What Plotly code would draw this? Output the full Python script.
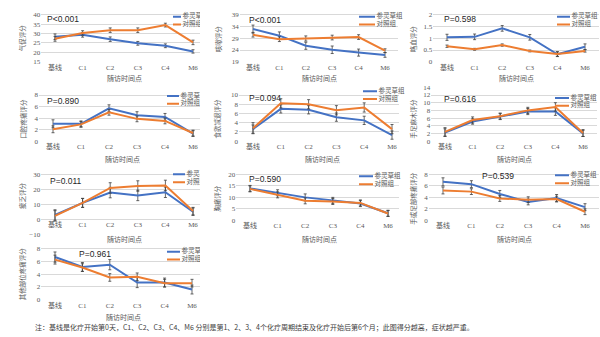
import plotly.graph_objects as go

W, H = 600, 337

categories = ["基线", "C1", "C2", "C3", "C4", "M6"]
group_names = ["参灵草组", "对照组"]
y_titles = ["气促评分", "咳嗽评分", "咯血评分", "口腔疼痛评分", "食欲减退评分",
            "手足麻木评分", "疲乏评分", "胸痛评分", "手或足部疼痛评分", "其他部位疼痛评分"]
p_labels = ["P<0.001", "P<0.001", "P=0.598", "P=0.890", "P=0.094",
            "P=0.616", "P=0.011", "P=0.590", "P=0.539", "P=0.961"]
x_title = "随访时间点"
caption = "注：基线是化疗开始第0天，C1、C2、C3、C4、M6 分别是第1、2、3、4个化疗周期结束及化疗开始后第6个月；此图得分越高，症状越严重。"

# ---- data (mean, error) per panel: SLC group (blue) and control group (orange)
p1_slc = [28.3, 29.3, 27.0, 24.8, 23.5, 20.5]
p1_slc_err = [1.5, 1.2, 1.2, 1.0, 1.0, 0.9]
p1_ctl = [27.2, 30.3, 31.8, 31.8, 34.5, 25.3]
p1_ctl_err = [1.3, 1.2, 1.2, 1.2, 1.0, 1.2]

p2_slc = [32.9, 30.1, 25.8, 24.1, 22.9, 21.9]
p2_slc_err = [1.7, 1.6, 1.5, 1.6, 1.5, 1.0]
p2_ctl = [30.5, 28.6, 28.9, 29.3, 29.5, 23.7]
p2_ctl_err = [1.0, 1.0, 1.1, 1.0, 1.0, 0.8]

p3_slc = [1.04, 1.06, 1.42, 1.04, 0.32, 0.64]
p3_slc_err = [0.13, 0.12, 0.12, 0.12, 0.10, 0.12]
p3_ctl = [0.66, 0.53, 0.71, 0.46, 0.33, 0.46]
p3_ctl_err = [0.05, 0.04, 0.05, 0.04, 0.10, 0.05]

p4_slc = [3.0, 3.0, 5.7, 4.5, 4.2, 1.3]
p4_slc_err = [0.7, 0.5, 0.6, 0.6, 0.6, 0.5]
p4_ctl = [2.05, 2.9, 5.0, 3.86, 3.5, 1.4]
p4_ctl_err = [0.6, 0.5, 0.5, 0.5, 0.5, 0.5]

p5_slc = [2.6, 7.0, 6.8, 5.2, 4.5, 1.3]
p5_slc_err = [0.9, 0.9, 0.9, 0.9, 0.9, 0.9]
p5_ctl = [2.8, 8.2, 8.0, 6.7, 7.3, 2.6]
p5_ctl_err = [1.2, 1.0, 1.0, 1.0, 1.0, 1.0]

p6_slc = [2.2, 5.1, 6.4, 7.7, 7.7, 2.0]
p6_slc_err = [1.0, 0.7, 0.8, 0.8, 1.0, 0.8]
p6_ctl = [2.4, 5.5, 6.5, 8.0, 8.9, 2.1]
p6_ctl_err = [1.1, 0.8, 0.8, 0.8, 1.1, 0.9]

p7_slc = [2.8, 10.9, 17.8, 15.9, 18.0, 5.0]
p7_slc_err = [3.5, 3.0, 3.5, 3.5, 3.5, 2.5]
p7_ctl = [2.2, 10.9, 20.9, 22.2, 22.6, 5.4]
p7_ctl_err = [3.5, 3.0, 3.5, 3.5, 3.5, 2.5]

p8_slc = [13.9, 12.0, 10.0, 8.7, 7.3, 3.1]
p8_slc_err = [1.3, 1.3, 1.5, 1.3, 1.3, 1.3]
p8_ctl = [13.7, 11.1, 8.5, 8.2, 7.6, 3.0]
p8_ctl_err = [1.3, 1.3, 1.3, 1.3, 1.3, 1.3]

p9_slc = [6.7, 6.3, 4.6, 3.2, 3.9, 2.3]
p9_slc_err = [0.7, 0.6, 0.6, 0.5, 0.6, 0.6]
p9_ctl = [5.2, 5.0, 3.8, 3.6, 3.7, 1.5]
p9_ctl_err = [0.6, 0.5, 0.5, 0.5, 0.5, 0.5]

p10_slc = [6.7, 5.15, 5.5, 2.7, 2.7, 1.6]
p10_slc_err = [0.8, 0.7, 0.8, 0.8, 0.7, 0.7]
p10_ctl = [6.3, 5.05, 3.5, 3.6, 2.6, 2.6]
p10_ctl_err = [0.7, 0.6, 0.6, 0.6, 0.6, 0.6]

panel_data = [
    (p1_slc, p1_slc_err, p1_ctl, p1_ctl_err),
    (p2_slc, p2_slc_err, p2_ctl, p2_ctl_err),
    (p3_slc, p3_slc_err, p3_ctl, p3_ctl_err),
    (p4_slc, p4_slc_err, p4_ctl, p4_ctl_err),
    (p5_slc, p5_slc_err, p5_ctl, p5_ctl_err),
    (p6_slc, p6_slc_err, p6_ctl, p6_ctl_err),
    (p7_slc, p7_slc_err, p7_ctl, p7_ctl_err),
    (p8_slc, p8_slc_err, p8_ctl, p8_ctl_err),
    (p9_slc, p9_slc_err, p9_ctl, p9_ctl_err),
    (p10_slc, p10_slc_err, p10_ctl, p10_ctl_err),
]

# ---- layout geometry (pixels)
geom = [
    dict(c0=55, sp=27.6, right=200, ptop=12, pbot=60, ymin=15, ymax=40, dtick=5, col=0,
         ytx=22, yty=36, xty=77, px=45, py=16, lx=(173, 181), ly=(14, 22)),
    dict(c0=253, sp=26.4, right=398, ptop=12, pbot=60, ymin=19, ymax=39, dtick=5, col=1,
         ytx=218, yty=37, xty=77, px=247, py=17, lx=(359, 375), ly=(14, 22)),
    dict(c0=447, sp=27.6, right=599, ptop=12, pbot=60, ymin=0, ymax=2, dtick=0.5, col=2,
         ytx=413, yty=37, xty=77, px=442, py=16, lx=(557, 570), ly=(14, 22)),
    dict(c0=53, sp=28.0, right=200, ptop=94, pbot=141, ymin=0, ymax=8, dtick=2, col=0,
         ytx=23, yty=118, xty=159, px=45, py=100, lx=(167, 179), ly=(95, 103)),
    dict(c0=253, sp=27.8, right=399, ptop=94, pbot=141, ymin=0, ymax=10, dtick=2, col=1,
         ytx=217, yty=118, xty=159, px=247, py=97, lx=(363, 377), ly=(90, 98)),
    dict(c0=445, sp=27.6, right=597, ptop=94, pbot=141, ymin=0, ymax=12, dtick=2, col=2,
         ytx=413, yty=118, xty=159, px=442, py=98, lx=(555, 569), ly=(97, 105)),
    dict(c0=55, sp=27.6, right=200, ptop=175, pbot=236, ymin=-10, ymax=30, dtick=10, col=0,
         ytx=22, yty=197, xty=241, px=48, py=182, lx=(173, 185), ly=(175, 183)),
    dict(c0=250, sp=27.6, right=399, ptop=175, pbot=222, ymin=0, ymax=20, dtick=5, col=1,
         ytx=217, yty=200, xty=241, px=247, py=180, lx=(359, 373), ly=(177, 185)),
    dict(c0=443, sp=28.4, right=599, ptop=175, pbot=222, ymin=0, ymax=8, dtick=2, col=2,
         ytx=413, yty=200, xty=241, px=480, py=177, lx=(555, 569), ly=(176, 184)),
    dict(c0=55, sp=27.4, right=200, ptop=251, pbot=303, ymin=0, ymax=8, dtick=2, col=0,
         ytx=22, yty=277, xty=321, px=77, py=256, lx=(167, 180), ly=(254, 262)),
]

BLUE = "#4472C4"
ORANGE = "#ED7D31"
ERR = "#404040"
GRID = "#D9D9D9"
TXT = "#595959"
CJK = "Noto Sans CJK SC"
EXT = 8  # extra pixels above top gridline inside plot area

fig = go.Figure()
layout = {}
annotations = []

for i, (g, data) in enumerate(zip(geom, panel_data)):
    k = i + 1
    xa = "x" if k == 1 else f"x{k}"
    ya = "y" if k == 1 else f"y{k}"
    xname = "xaxis" if k == 1 else f"xaxis{k}"
    yname = "yaxis" if k == 1 else f"yaxis{k}"
    upp = (g["ymax"] - g["ymin"]) / (g["pbot"] - g["ptop"])  # units per pixel
    ytop = g["ymax"] + EXT * upp
    L = g["c0"] - g["sp"] / 2

    def to_data(px, py, g=g, upp=upp):
        return (px - g["c0"]) / g["sp"], g["ymax"] - (py - g["ptop"]) * upp

    slc, slc_err, ctl, ctl_err = data
    xs = list(range(len(categories)))
    for vals, errs, color in ((slc, slc_err, BLUE), (ctl, ctl_err, ORANGE)):
        fig.add_trace(go.Scatter(
            x=xs, y=vals, mode="lines", line=dict(color=color, width=2),
            error_y=dict(type="data", array=errs, visible=True, color=ERR,
                         thickness=0.8, width=1.5),
            xaxis=xa, yaxis=ya, showlegend=False, hoverinfo="skip"))

    # custom legend (clipped to plot area for left column, like the reference)
    for name, color, ly in zip(group_names, (BLUE, ORANGE), g["ly"]):
        x0, yv = to_data(g["lx"][0], ly)
        x1, _ = to_data(g["lx"][1], ly)
        fig.add_trace(go.Scatter(
            x=[x0, x1], y=[yv, yv], mode="lines", line=dict(color=color, width=2),
            xaxis=xa, yaxis=ya, showlegend=False, hoverinfo="skip"))
        tx, _ = to_data(g["lx"][1] + 1.5, ly)
        fig.add_trace(go.Scatter(
            x=[tx], y=[yv], mode="text", text=[name], textposition="middle right",
            textfont=dict(family=CJK, size=6.5, color=TXT),
            cliponaxis=(g["col"] == 0),
            xaxis=xa, yaxis=ya, showlegend=False, hoverinfo="skip"))

    xaxis = dict(
        domain=[L / W, g["right"] / W],
        range=[-0.5, (g["right"] - g["c0"]) / g["sp"]],
        tickmode="array", tickvals=xs, ticktext=categories,
        showgrid=False, zeroline=False, showline=False, ticks="",
        tickfont=dict(family="Liberation Serif, " + CJK, size=7, color=TXT),
        fixedrange=True,
    )
    if g["ymin"] < 0:
        p0 = g["ptop"] + (g["ymax"] - 0) / upp
        xaxis.update(anchor="free", position=1 - p0 / H)
    else:
        xaxis.update(anchor=ya)
    layout[xname] = xaxis
    layout[yname] = dict(
        domain=[1 - g["pbot"] / H, 1 - (g["ptop"] - EXT) / H],
        range=[g["ymin"], ytop], tick0=g["ymin"], dtick=g["dtick"],
        showgrid=True, gridcolor=GRID, gridwidth=1, zeroline=False, showline=False,
        ticks="", tickfont=dict(family="Liberation Serif", size=7, color=TXT),
        anchor=xa, fixedrange=True,
    )

    # axis titles and P value
    annotations.append(dict(
        x=(g["c0"] + 2.5 * g["sp"]) / W, y=1 - g["xty"] / H, xref="paper", yref="paper",
        text=x_title, showarrow=False, xanchor="center", yanchor="middle",
        font=dict(family=CJK, size=7, color=TXT)))
    annotations.append(dict(
        x=g["ytx"] / W, y=1 - g["yty"] / H, xref="paper", yref="paper",
        text=y_titles[i], showarrow=False, textangle=-90, xanchor="center", yanchor="middle",
        font=dict(family=CJK, size=6.5, color=TXT)))
    annotations.append(dict(
        x=g["px"] / W, y=1 - g["py"] / H, xref="paper", yref="paper",
        text=p_labels[i], showarrow=False, xanchor="left", yanchor="middle",
        font=dict(family="Liberation Sans", size=8.5, color="#262626")))

annotations.append(dict(
    x=33 / W, y=1 - 331 / H, xref="paper", yref="paper", text=caption,
    showarrow=False, xanchor="left", yanchor="middle",
    font=dict(family=CJK, size=7, color="#404040")))

fig.update_layout(
    width=W, height=H, margin=dict(l=0, r=0, t=0, b=0),
    paper_bgcolor="white", plot_bgcolor="white",
    annotations=annotations, **layout)

fig.write_html("out.html")
